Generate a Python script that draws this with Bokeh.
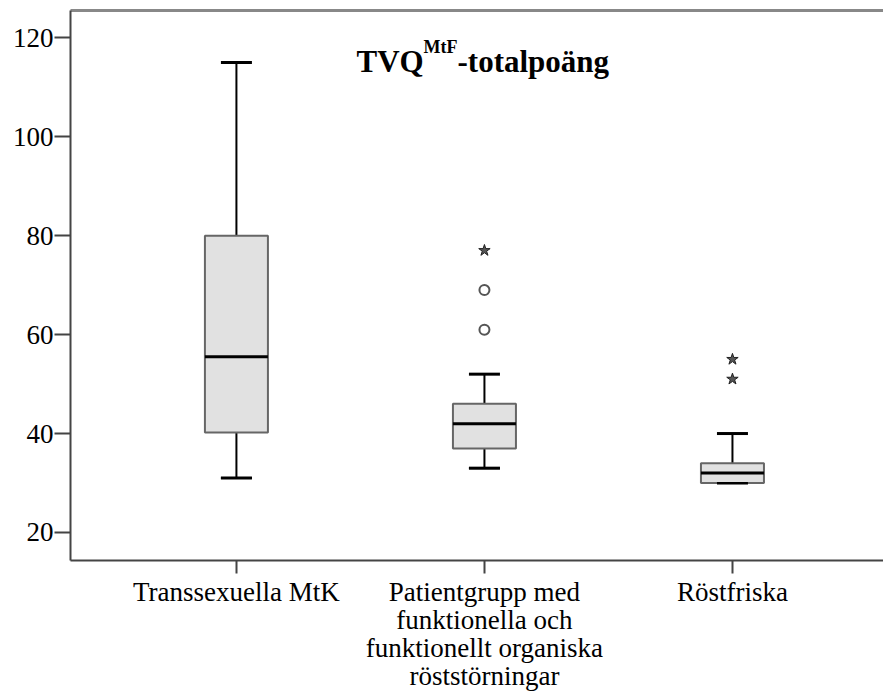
from bokeh.plotting import figure
from bokeh.models import Range1d, FixedTicker, LinearAxis, Label
from bokeh.embed import file_html
from bokeh.resources import INLINE

# ---- data ----
categories = ["Transsexuella MtK",
              "Patientgrupp med\nfunktionella och\nfunktionellt organiska\nröststörningar",
              "Röstfriska"]
lower_whisker = [31, 33, 30]
q1 = [40.2, 37, 30]
median = [55.5, 42, 32]
q3 = [80, 46, 34]
upper_whisker = [115, 52, 40]
circle_group = [2, 2]
circle_values = [69, 61]
star_group = [2, 3, 3]
star_values = [77, 55, 51]
y_ticks = [20, 40, 60, 80, 100, 120]

xs = [i + 1 for i in range(len(categories))]

# ---- layout ----
W, H = 883, 697
FL, FT, FB = 70, 10, 560
X0, X1 = 0.331, 3.609
Y0, Y1 = 14.34, 125.5

def px_x(px):
    return X0 + (px - FL) / (W - FL) * (X1 - X0)

def px_y(py):
    return Y1 - (py - FT) / (FB - FT) * (Y1 - Y0)

p = figure(width=W, height=H, output_backend="svg", toolbar_location=None,
           x_range=Range1d(X0, X1), y_range=Range1d(Y0, Y1),
           min_border_left=FL, min_border_top=FT, min_border_bottom=H - FB,
           min_border_right=0, x_axis_type=None, y_axis_type=None)
p.outline_line_color = None
p.xgrid.visible = False
p.ygrid.visible = False
p.background_fill_color = "white"
p.border_fill_color = "white"

FONT = "Liberation Serif"

yaxis = LinearAxis(ticker=FixedTicker(ticks=y_ticks))
yaxis.axis_line_color = "#444444"
yaxis.axis_line_width = 2
yaxis.major_tick_line_color = "#444444"
yaxis.major_tick_line_width = 2
yaxis.major_tick_in = 0
yaxis.major_tick_out = 16
yaxis.minor_tick_line_color = None
yaxis.major_label_standoff = 1
yaxis.major_label_text_font = FONT
yaxis.major_label_text_font_size = "27px"
yaxis.major_label_text_color = "black"
p.add_layout(yaxis, "left")

xaxis = LinearAxis(ticker=FixedTicker(ticks=xs))
xaxis.major_label_overrides = {x: c for x, c in zip(xs, categories)}
xaxis.axis_line_color = "#444444"
xaxis.axis_line_width = 2
xaxis.major_tick_line_color = "#444444"
xaxis.major_tick_line_width = 2
xaxis.major_tick_in = 0
xaxis.major_tick_out = 13
xaxis.minor_tick_line_color = None
xaxis.major_label_standoff = 3
xaxis.major_label_text_font = FONT
xaxis.major_label_text_font_size = "27px"
xaxis.major_label_text_line_height = 0.94
xaxis.major_label_text_color = "black"
p.add_layout(xaxis, "below")

top = LinearAxis(ticker=FixedTicker(ticks=[]))
top.axis_line_color = "#888888"
top.axis_line_width = 3
top.major_tick_line_color = None
top.minor_tick_line_color = None
top.major_label_text_font_size = "0px"
p.add_layout(top, "above")

BOX_W = 63 / 248
CAP_W = 31 / 248

# whiskers
p.segment(x0=xs, y0=q3, x1=xs, y1=upper_whisker, line_color="black", line_width=2)
p.segment(x0=xs, y0=lower_whisker, x1=xs, y1=q1, line_color="black", line_width=2)
# caps
p.segment(x0=[x - CAP_W / 2 for x in xs], y0=upper_whisker,
          x1=[x + CAP_W / 2 for x in xs], y1=upper_whisker, line_color="black", line_width=3)
p.segment(x0=[x - CAP_W / 2 for x in xs], y0=lower_whisker,
          x1=[x + CAP_W / 2 for x in xs], y1=lower_whisker, line_color="black", line_width=3)
# boxes
p.vbar(x=xs, width=BOX_W, bottom=q1, top=q3, fill_color="#e1e1e1",
       line_color="#666666", line_width=2)
# medians
p.segment(x0=[x - BOX_W / 2 for x in xs], y0=median,
          x1=[x + BOX_W / 2 for x in xs], y1=median, line_color="black", line_width=3)
# redraw lower cap where it meets the box
p.segment(x0=[x - CAP_W / 2 for x in xs], y0=lower_whisker,
          x1=[x + CAP_W / 2 for x in xs], y1=lower_whisker, line_color="black", line_width=2)

# outliers
p.scatter(x=circle_group, y=circle_values, marker="circle", size=10,
          fill_color="white", line_color="#555555", line_width=2)
p.scatter(x=star_group, y=star_values, marker="star", size=12,
          fill_color="#555555", line_color="#222222", line_width=1)

# title with superscript
p.add_layout(Label(x=px_x(356), y=px_y(61), text="TVQ", text_font=FONT,
                   text_font_style="bold", text_font_size="31px",
                   text_baseline="alphabetic", text_align="left", text_color="black"))
p.add_layout(Label(x=px_x(423), y=px_y(46), text="MtF", text_font=FONT,
                   text_font_style="bold", text_font_size="18px",
                   text_baseline="alphabetic", text_align="left", text_color="black"))
p.add_layout(Label(x=px_x(457), y=px_y(61), text="-totalpoäng", text_font=FONT,
                   text_font_style="bold", text_font_size="31px",
                   text_baseline="alphabetic", text_align="left", text_color="black"))

open("out.html", "w").write(file_html(p, INLINE))
